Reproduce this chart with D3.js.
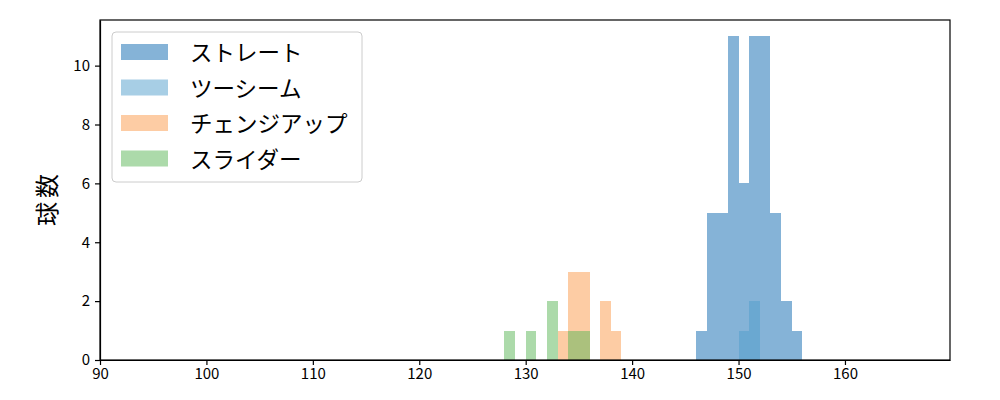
<!DOCTYPE html>
<meta charset="utf-8">
<style>
body { margin: 0; background: #fff; }
.axis text { font-family: "Noto Sans CJK JP", sans-serif; font-size: 15px; fill: #000; }
.axis line, .axis path { stroke: #000; stroke-width: 1.2; }
.legend text { font-family: "Noto Sans CJK JP", sans-serif; font-size: 22.5px; fill: #000; }
.ylabel { font-family: "Noto Sans CJK JP", sans-serif; font-size: 24px; letter-spacing: 4px; }
.bars rect { shape-rendering: crispEdges; }
</style>
<body>
<script src="https://cdn.jsdelivr.net/npm/d3@7/dist/d3.min.js"></script>
<script>
// bin start (km/h, width 1) and counts per pitch type
var straightBins = [146, 147, 148, 149, 150, 151, 152, 153, 154, 155]
var straightCounts = [1, 5, 5, 11, 6, 11, 11, 5, 2, 1]
var twoSeamBins = [150, 151]
var twoSeamCounts = [1, 2]
var changeupBins = [133, 134, 135, 137, 138]
var changeupCounts = [1, 3, 3, 2, 1]
var sliderBins = [128, 130, 132, 134, 135]
var sliderCounts = [1, 1, 2, 1, 1]

var seriesNames = ['ストレート', 'ツーシーム', 'チェンジアップ', 'スライダー']
var seriesColors = ['#0b67af', '#4f9dcb', '#fb9a4a', '#59b555']
var xTicks = [90, 100, 110, 120, 130, 140, 150, 160]
var yTicks = [0, 2, 4, 6, 8, 10]

var series = [
    { bins: straightBins, counts: straightCounts },
    { bins: twoSeamBins, counts: twoSeamCounts },
    { bins: changeupBins, counts: changeupCounts },
    { bins: sliderBins, counts: sliderCounts }
]

var margin = { top: 20, right: 50, bottom: 40, left: 100 }
var width = 1000 - margin.left - margin.right
var height = 400 - margin.top - margin.bottom

var svg = d3.select('body').append('svg')
    .attr('width', 1000)
    .attr('height', 400)

var g = svg.append('g')
    .attr('transform', 'translate(' + margin.left + ',' + margin.top + ')')

var x = d3.scaleLinear().domain([90, 169.87]).range([0, width])
var y = d3.scaleLinear().domain([0, 11.55]).range([height, 0])

series.forEach(function (s, i) {
    g.append('g').attr('class', 'bars').selectAll('rect')
        .data(s.bins.map(function (b, j) { return { b: b, c: s.counts[j] } }))
        .enter().append('rect')
        .attr('x', function (d) { return x(d.b) })
        .attr('width', function (d) { return x(d.b + 1) - x(d.b) })
        .attr('y', function (d) { return y(d.c) })
        .attr('height', function (d) { return y(0) - y(d.c) })
        .attr('fill', seriesColors[i])
        .attr('fill-opacity', 0.5)
})

g.append('g')
    .attr('class', 'axis')
    .attr('transform', 'translate(0,' + height + ')')
    .call(d3.axisBottom(x).tickValues(xTicks).tickSize(5).tickPadding(3).tickSizeOuter(0))

g.append('g')
    .attr('class', 'axis')
    .call(d3.axisLeft(y).tickValues(yTicks).tickSize(5).tickPadding(5).tickSizeOuter(0))

g.append('rect')
    .attr('width', width)
    .attr('height', height)
    .attr('fill', 'none')
    .attr('stroke', '#000')
    .attr('stroke-width', 1.2)

svg.append('text')
    .attr('class', 'ylabel')
    .attr('transform', 'translate(56,198) rotate(-90)')
    .attr('text-anchor', 'middle')
    .text('球数')

var legend = g.append('g').attr('class', 'legend')
legend.append('rect')
    .attr('x', 12).attr('y', 12)
    .attr('width', 250).attr('height', 150)
    .attr('rx', 4)
    .attr('fill', '#fff').attr('fill-opacity', 0.8)
    .attr('stroke', '#ccc')

seriesNames.forEach(function (name, i) {
    var cy = 32 + i * 35.5
    legend.append('rect')
        .attr('x', 21).attr('y', cy - 8)
        .attr('width', 47).attr('height', 16)
        .attr('fill', seriesColors[i]).attr('fill-opacity', 0.5)
    legend.append('text')
        .attr('x', 90).attr('y', cy + 1)
        .attr('dy', '0.36em')
        .text(name)
})
</script>
</body>
